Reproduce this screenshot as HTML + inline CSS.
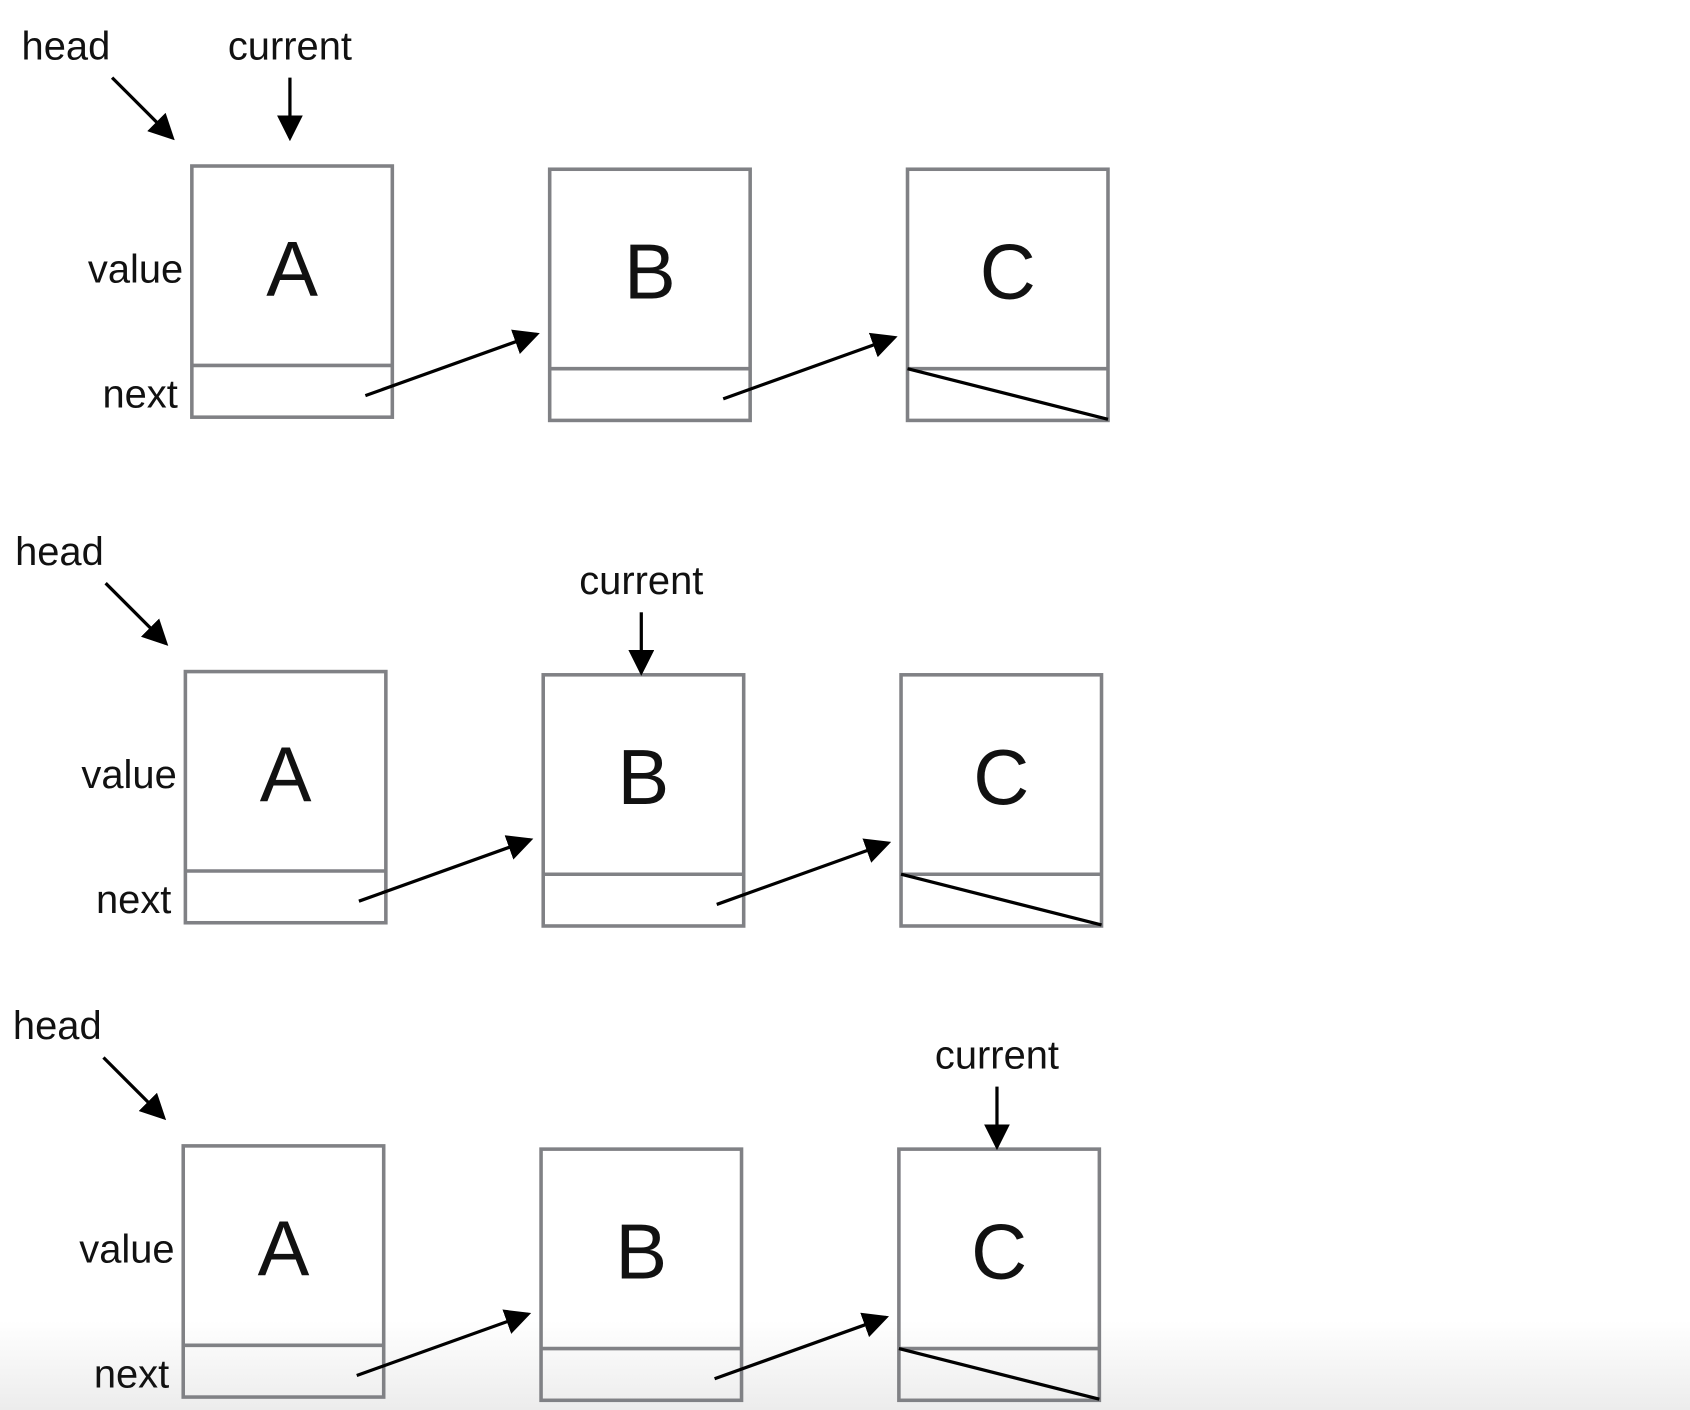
<!DOCTYPE html>
<html><head><meta charset="utf-8"><style>
html,body{margin:0;padding:0;background:#fff;}
svg{display:block;}
text{font-family:"Liberation Sans",sans-serif;fill:#111;}
</style></head><body>
<svg width="1690" height="1410" viewBox="0 0 1568 1308" preserveAspectRatio="none">
<defs>
<marker id="ah" markerWidth="8" markerHeight="8" refX="7" refY="4" orient="auto" markerUnits="strokeWidth">
<path d="M0,0 L8,4 L0,8 z" fill="#000"/></marker>
<linearGradient id="bg" x1="0" y1="0" x2="0" y2="1"><stop offset="0" stop-color="#fff"/><stop offset="1" stop-color="#ececec"/></linearGradient>
</defs>
<rect x="0" y="1225" width="1568" height="83" fill="url(#bg)"/>
<g id="root"></g>
</svg>
<script>
const rowTops = [154, 623, 1063];
const rowLeftShift = [0, -6, -8];
const currentIdx = [0, 1, 2];
const nodeLabels = ['A','B','C'];
const curGap = [24, 0, 0];
const ns='http://www.w3.org/2000/svg';
const root=document.getElementById('root');
function mk(tag,attrs,parent){const e=document.createElementNS(ns,tag);for(const k in attrs)e.setAttribute(k,attrs[k]);(parent||root).appendChild(e);return e;}
const boxX=[178,510,842], boxDy=[0,3,3], W=186, H=233, divH=48;
rowTops.forEach((top,r)=>{
  const sx=rowLeftShift[r];
  const g=mk('g',{});
  
  
  const h=mk('text',{x:20+sx,y:top-99,'font-size':37},g);h.textContent='head';
  
  
  const ha=mk('line',{x1:104+sx,y1:top-82,x2:160+sx,y2:top-26,stroke:'#000','stroke-width':3,'marker-end':'url(#ah)'},g);
  
  
  const vl=mk('text',{x:170+sx,y:top+108,'font-size':37,'text-anchor':'end'},g);vl.textContent='value';
  
  
  const nl=mk('text',{x:165+sx,y:top+224,'font-size':37,'text-anchor':'end'},g);nl.textContent='next';
  
  
  nodeLabels.forEach((lab,i)=>{
    const x=boxX[i]+sx, y=top+boxDy[i];
    const n=mk('g',{},g);
    
    
    mk('rect',{x:x,y:y,width:W,height:H,fill:'none',stroke:'#808185','stroke-width':3.3},n);
    mk('line',{x1:x,y1:y+H-divH,x2:x+W,y2:y+H-divH,stroke:'#808185','stroke-width':3.3},n);
    const t=mk('text',{x:x+W/2,y:y+120,'font-size':72,'text-anchor':'middle'},n);t.textContent=lab;
    if(i<2){
      const a=mk('line',{x1:x+161,y1:y+H-20,x2:x+320,y2:y+H-77,stroke:'#000','stroke-width':3,'marker-end':'url(#ah)'},n);
      
      
    } else {
      const nl2=mk('line',{x1:x,y1:y+H-divH,x2:x+W,y2:y+H-1,stroke:'#000','stroke-width':3},n);
      
      
    }
    if(i===currentIdx[r]){
      const cx=x+W/2-2;
      const by=y-curGap[r];
      const ct=mk('text',{x:cx,y:by-75,'font-size':37,'text-anchor':'middle'},g);ct.textContent='current';
      
      
      const ca=mk('line',{x1:cx,y1:by-58,x2:cx,y2:by-2,stroke:'#000','stroke-width':3,'marker-end':'url(#ah)'},g);
      
      
    }
  });
});
</script>
</body></html>
